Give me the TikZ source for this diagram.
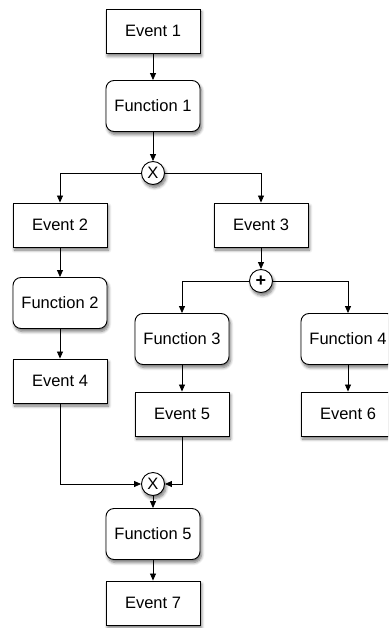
\documentclass[tikz,border=0pt]{standalone}
\usepackage{fontspec}
\setmainfont{Liberation Sans}
\usetikzlibrary{arrows.meta,shadows.blur}
\begin{document}
\begin{tikzpicture}[x=1pt,y=-1pt,
  every node/.style={font=\fontsize{16.5}{19}\selectfont},
  softshadow/.style={blur shadow={shadow xshift=1.5pt,shadow yshift=-3pt,shadow blur steps=6,shadow blur radius=3pt,shadow opacity=55}},
  eventbox/.style={draw,line width=0.9pt,fill=white,minimum width=94pt,minimum height=44pt,inner sep=0pt,softshadow},
  funcbox/.style={draw,line width=0.9pt,fill=white,rounded corners=8pt,minimum width=94pt,minimum height=51pt,inner sep=0pt,softshadow},
  joinop/.style={draw,circle,line width=0.9pt,fill=white,minimum size=23pt,inner sep=0pt,softshadow},
  flow/.style={draw,line width=0.8pt,-{Triangle[length=7pt,width=6pt]}}]
\clip (0,0) rectangle (388,628);
\useasboundingbox (0,0) rectangle (388,628);

% events and functions
\node[eventbox] (e1) at (153,31) {Event 1};
\node[funcbox]  (f1) at (153,106) {Function 1};
\node[joinop]   (x1) at (153,173) {X};
\node[eventbox] (e2) at (60,225) {Event 2};
\node[eventbox] (e3) at (261,225) {Event 3};
\node[funcbox]  (f2) at (60,303) {Function 2};
\node[joinop,font=\fontsize{18}{18}\selectfont\bfseries] (p1) at (261,281) {+};
\node[funcbox]  (f3) at (182,339) {Function 3};
\node[funcbox]  (f4) at (348,339) {Function 4};
\node[eventbox] (e4) at (60,381) {Event 4};
\node[eventbox] (e5) at (182,414) {Event 5};
\node[eventbox] (e6) at (348,414) {Event 6};
\node[joinop]   (x2) at (153,484) {X};
\node[funcbox]  (f5) at (153,534) {Function 5};
\node[eventbox] (e7) at (153,603) {Event 7};

% control flow
\draw[flow] (e1) -- (f1);
\draw[flow] (f1) -- (x1);
\draw[flow] (x1.west) -| (e2.north);
\draw[flow] (x1.east) -| (e3.north);
\draw[flow] (e2) -- (f2);
\draw[flow] (f2) -- (e4);
\draw[flow] (e3) -- (p1);
\draw[flow] (p1.west) -| (f3.north);
\draw[flow] (p1.east) -| (f4.north);
\draw[flow] (f3) -- (e5);
\draw[flow] (f4) -- (e6);
\draw[flow] (e4.south) |- (x2.west);
\draw[flow] (e5.south) |- (x2.east);
\draw[flow] (x2) -- (f5);
\draw[flow] (f5) -- (e7);
\end{tikzpicture}
\end{document}
